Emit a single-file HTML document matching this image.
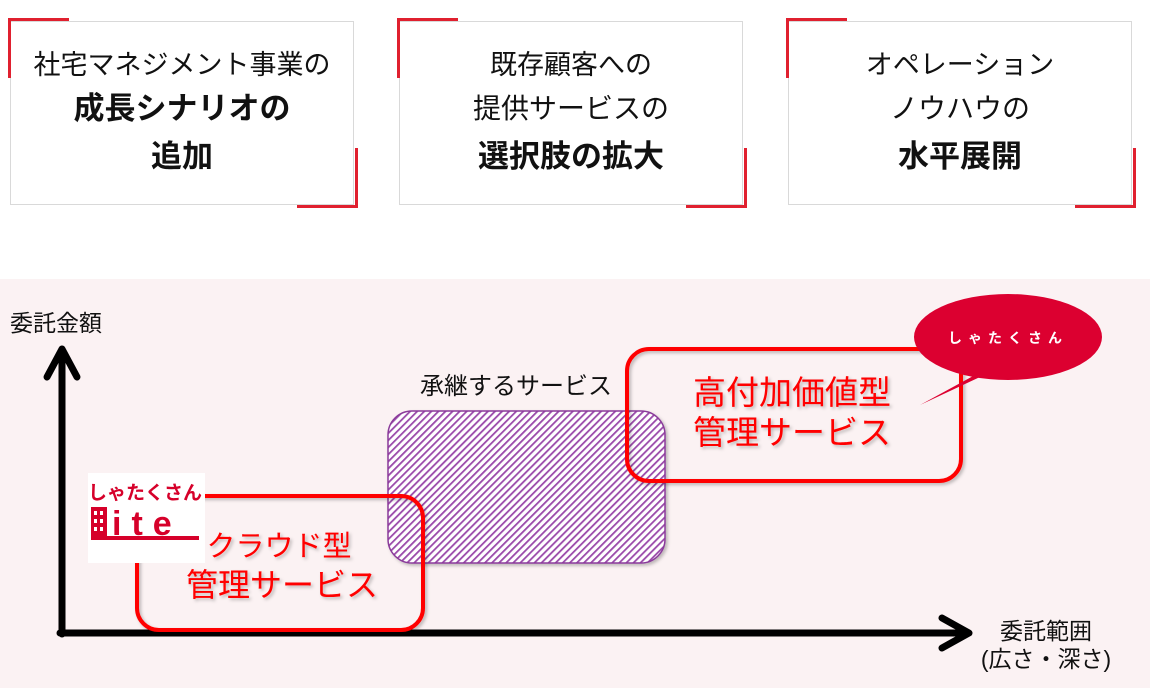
<!DOCTYPE html>
<html><head><meta charset="utf-8"><style>
html,body{margin:0;padding:0;background:#fff;}
body{width:1150px;height:688px;position:relative;overflow:hidden;font-family:"Liberation Sans","Noto Sans CJK JP",sans-serif;}
.card{position:absolute;top:21px;width:344px;height:184px;border:1px solid #d9d9d9;background:#fff;box-sizing:border-box;text-align:center;color:#111;}
.card .l1{position:absolute;left:0;right:0;top:26px;font-size:27px;line-height:34px;}
.card .l2{position:absolute;left:0;right:0;top:69px;font-size:31px;font-weight:bold;line-height:36px;}
.card .l3{position:absolute;left:0;right:0;top:117px;font-size:31px;font-weight:bold;line-height:36px;}
.tl{position:absolute;width:58px;height:57px;border-top:3px solid #e0202f;border-left:3px solid #e0202f;}
.br{position:absolute;width:58px;height:57px;border-bottom:3px solid #e0202f;border-right:3px solid #e0202f;}
</style></head><body>
<div class="card" style="left:10px"><div class="l1">社宅マネジメント事業の</div><div class="l2">成長シナリオの</div><div class="l3">追加</div></div>
<div class="card" style="left:399px"><div class="l1">既存顧客への</div><div class="l2" style="font-weight:normal;font-size:28px">提供サービスの</div><div class="l3">選択肢の拡大</div></div>
<div class="card" style="left:788px"><div class="l1">オペレーション</div><div class="l2" style="font-weight:normal;font-size:28px">ノウハウの</div><div class="l3">水平展開</div></div>
<div class="tl" style="left:8px;top:18px"></div><div class="br" style="left:297px;top:148px"></div>
<div class="tl" style="left:397px;top:18px"></div><div class="br" style="left:686px;top:148px"></div>
<div class="tl" style="left:786px;top:18px"></div><div class="br" style="left:1075px;top:148px"></div>

<svg style="position:absolute;left:0;top:0" width="1150" height="688" xmlns="http://www.w3.org/2000/svg" font-family="Liberation Sans,Noto Sans CJK JP,sans-serif">
<defs>
<pattern id="h" width="5" height="5" patternUnits="userSpaceOnUse" patternTransform="rotate(45)">
<rect width="5" height="5" fill="#fff"/><rect width="1.8" height="5" fill="#9a4aaa"/>
</pattern>
<filter id="s" x="-10%" y="-10%" width="130%" height="130%"><feDropShadow dx="2" dy="2" stdDeviation="1.5" flood-color="#000" flood-opacity="0.25"/></filter>
</defs>
<rect x="0" y="279" width="1150" height="409" fill="#fbf2f3"/>
<text x="10" y="331" font-size="23" fill="#111">委託金額</text>
<text x="1046" y="639" font-size="23" fill="#111" text-anchor="middle">委託範囲</text>
<text x="1046" y="667" font-size="23" fill="#111" text-anchor="middle">(広さ・深さ)</text>
<text x="516" y="394" font-size="24" fill="#111" text-anchor="middle">承継するサービス</text>
<g stroke="#000" stroke-width="7" fill="none" stroke-linecap="round" stroke-linejoin="round">
<path d="M62 634 L62 350"/><path d="M47 377 L62 349 L77 377"/>
<path d="M60 633 L967 633"/><path d="M942 618 L969 633 L942 648"/>
</g>
<rect x="388" y="411" width="277" height="152" rx="24" fill="url(#h)" stroke="#8a3a9a" stroke-width="1.5" filter="url(#s)"/>
<rect x="137" y="496" width="286" height="134" rx="22" fill="none" stroke="#f00" stroke-width="4" filter="url(#s)"/>
<rect x="627" y="349" width="334" height="132" rx="22" fill="none" stroke="#f00" stroke-width="4" filter="url(#s)"/>
<text x="279" y="556" font-size="29" fill="#f00" text-anchor="middle" filter="url(#s)">クラウド型</text>
<text x="282" y="596" font-size="32" fill="#f00" text-anchor="middle" filter="url(#s)">管理サービス</text>
<text x="792" y="404" font-size="33" fill="#f00" text-anchor="middle" filter="url(#s)">高付加価値型</text>
<text x="792" y="444" font-size="33" fill="#f00" text-anchor="middle" filter="url(#s)">管理サービス</text>
<path d="M920 405 L975 375 L995 370 Z" fill="#dc0030"/>
<ellipse cx="1008" cy="337" rx="94" ry="43" fill="#dc0030"/>
<text x="1008" y="343" font-size="14" fill="#fff" text-anchor="middle" letter-spacing="6" font-weight="bold">しゃたくさん</text>
<rect x="88" y="473" width="117" height="90" fill="#fff"/>
<text x="145" y="499" font-size="19" fill="#d6002a" text-anchor="middle" font-weight="bold">しゃたくさん</text>
<rect x="91" y="507" width="16" height="29" fill="#d6002a"/>
<g fill="#fff"><rect x="94" y="511" width="3" height="4"/><rect x="100" y="511" width="3" height="4"/><rect x="94" y="519" width="3" height="4"/><rect x="100" y="519" width="3" height="4"/><rect x="94" y="527" width="3" height="4"/><rect x="100" y="527" width="3" height="4"/></g>
<rect x="91" y="536" width="108" height="4" fill="#d6002a"/>
<text x="112" y="535" font-size="34" fill="#d6002a" font-weight="bold" letter-spacing="10" font-family="Liberation Sans,sans-serif">ite</text>
</svg>
</body></html>
